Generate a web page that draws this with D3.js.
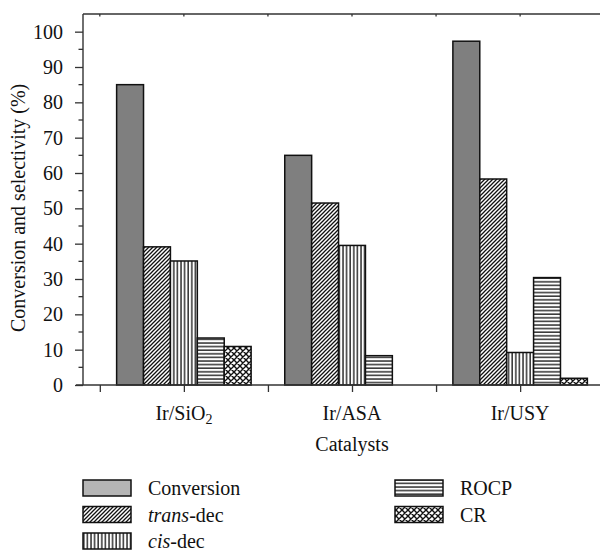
<!DOCTYPE html>
<html><head><meta charset="utf-8">
<script src="https://cdn.jsdelivr.net/npm/d3@7"></script>
<style>body{margin:0;background:#fff}svg{display:block}text{font-family:"Liberation Serif","DejaVu Serif",serif;fill:#111}</style>
</head><body>
<svg id="c" width="600" height="554"></svg>
<script>
const categories = ["Ir/SiO2", "Ir/ASA", "Ir/USY"];
const seriesNames = ["Conversion", "trans-dec", "cis-dec", "ROCP", "CR"];
const conversion = [85, 65, 97.3];
const transDec = [39.1, 51.5, 58.3];
const cisDec = [35.1, 39.5, 9.2];
const rocp = [13.3, 8.3, 30.4];
const cr = [10.9, 0, 1.9];
const yTicks = [0, 10, 20, 30, 40, 50, 60, 70, 80, 90, 100];
const yLabel = "Conversion and selectivity (%)";
const xLabel = "Catalysts";

const series = [conversion, transDec, cisDec, rocp, cr];
const svg = d3.select("#c");
const x = d3.scaleLinear().domain([0.4, 3.6]).range([83, 621]);
const y = d3.scaleLinear().domain([0, 105]).range([385, 14]);
const FS = 20;

// patterns
const defs = svg.append("defs");
function pat(id, w, h, draw, bg) {
  const p = defs.append("pattern").attr("id", id).attr("patternUnits", "userSpaceOnUse")
    .attr("width", w).attr("height", h);
  p.append("rect").attr("width", w).attr("height", h).attr("fill", bg || "#fff");
  draw(p);
}
pat("pDiag", 4, 4, p => {
  p.append("path").attr("d", "M-1,1 L1,-1 M0,4 L4,0 M3,5 L5,3").attr("stroke", "#111").attr("stroke-width", 1.3);
});
pat("pVert", 3.6, 4, p => {
  p.append("path").attr("d", "M1,0 L1,4").attr("stroke", "#111").attr("stroke-width", 1.3);
});
pat("pHorz", 4, 3.6, p => {
  p.append("path").attr("d", "M0,1 L4,1").attr("stroke", "#111").attr("stroke-width", 1.3);
});
pat("pCross", 6, 6, p => {
  p.append("path").attr("d", "M0,0 L6,6 M6,0 L0,6 M-1,5 L1,7 M5,-1 L7,1 M-1,1 L1,-1 M5,7 L7,5").attr("stroke", "#111").attr("stroke-width", 1.4);
});
const fills = ["#7f7f7f", "url(#pDiag)", "url(#pVert)", "url(#pHorz)", "url(#pCross)"];
const legendFills = ["#b5b5b5", "url(#pDiag)", "url(#pVert)", "url(#pHorz)", "url(#pCross)"];

// bars
const bw = 0.16;
series.forEach((vals, si) => {
  svg.append("g").selectAll("rect").data(vals.map((v, ci) => ({v, ci})).filter(d => d.v > 0))
    .join("rect")
    .attr("x", d => x(d.ci + 1 - 2.5 * bw + si * bw))
    .attr("width", x(bw) - x(0))
    .attr("y", d => y(d.v))
    .attr("height", d => y(0) - y(d.v))
    .attr("fill", fills[si])
    .attr("stroke", "#111").attr("stroke-width", 1.5);
});

// frame
const lineCol = "#333";
svg.append("line").attr("x1", 83).attr("x2", 600).attr("y1", 14).attr("y2", 14).attr("stroke", lineCol).attr("stroke-width", 1.4);

// y axis
const yAxis = d3.axisLeft(y).tickValues(yTicks).tickSize(8).tickSizeOuter(0).tickFormat(d3.format("d"));
const gy = svg.append("g").attr("transform", "translate(83,0)").call(yAxis);
gy.select(".domain").attr("stroke", lineCol).attr("stroke-width", 1.4).attr("d", `M0,${y(0)}V14`);
gy.selectAll(".tick line").attr("stroke", lineCol).attr("stroke-width", 1.3);
gy.selectAll(".tick text").attr("x", -20).attr("font-size", FS).attr("fill", "#111").style("font-family", "Liberation Serif");
const minor = d3.range(5, 105, 10);
svg.append("g").selectAll("line").data(minor).join("line")
  .attr("x1", 78.5).attr("x2", 83).attr("y1", d => y(d)).attr("y2", d => y(d))
  .attr("stroke", lineCol).attr("stroke-width", 1.3);

// x axis
const xTickVals = d3.range(0.5, 3.6, 0.5);
const xAxis = d3.axisBottom(x).tickValues(xTickVals).tickSize(7).tickSizeOuter(0).tickFormat("");
const gx = svg.append("g").attr("transform", `translate(0,${y(0)})`).call(xAxis);
gx.select(".domain").attr("stroke", lineCol).attr("stroke-width", 1.4).attr("d", `M76,0H600`);
gx.selectAll(".tick line").attr("stroke", lineCol).attr("stroke-width", 1.3);
// top mirror ticks
svg.append("g").selectAll("line").data(xTickVals).join("line")
  .attr("x1", d => x(d)).attr("x2", d => x(d)).attr("y1", 14).attr("y2", 16.5)
  .attr("stroke", lineCol).attr("stroke-width", 1.3);

// category labels
categories.forEach((c, i) => {
  const t = svg.append("text").attr("x", x(i + 1)).attr("y", 420).attr("text-anchor", "middle").attr("font-size", FS);
  const m = c.match(/^(.*?)(\d+)$/);
  if (m) {
    t.append("tspan").text(m[1]);
    t.append("tspan").attr("font-size", 14).attr("dy", 4).text(m[2]);
  } else t.text(c);
});
svg.append("text").attr("x", x(2)).attr("y", 451).attr("text-anchor", "middle").attr("font-size", FS).text(xLabel);
svg.append("text").attr("transform", "translate(25,332) rotate(-90)").attr("font-size", FS).text(yLabel);

// legend
const legPos = [[83, 480], [83, 506.5], [83, 533], [395, 480], [395, 506.5]];
seriesNames.forEach((n, i) => {
  const [lx, ly] = legPos[i];
  svg.append("rect").attr("x", lx).attr("y", ly).attr("width", 48).attr("height", 16)
    .attr("fill", legendFills[i]).attr("stroke", "#111").attr("stroke-width", 1.5);
  const t = svg.append("text").attr("x", lx + 65).attr("y", ly + 15).attr("font-size", FS);
  const parts = n.split("-");
  if (parts.length > 1) {
    t.append("tspan").attr("font-style", "italic").text(parts[0]);
    t.append("tspan").text("-" + parts[1]);
  } else t.text(n);
});
</script>
</body></html>
